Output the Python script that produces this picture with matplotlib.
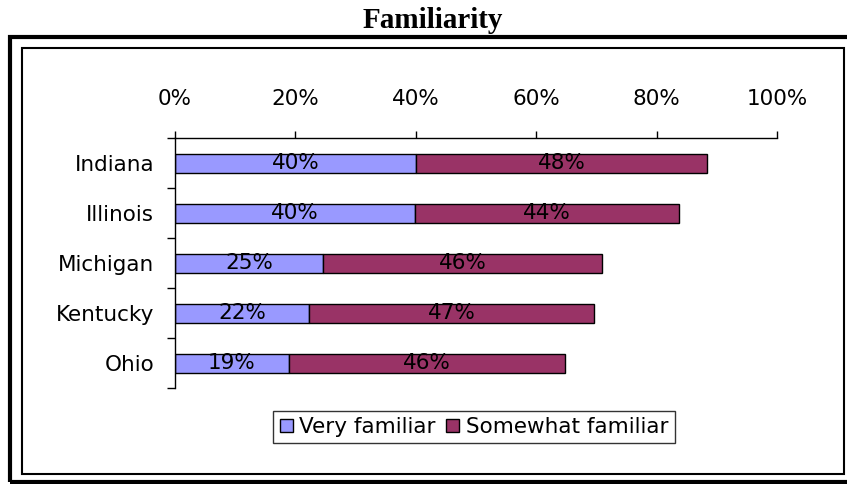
import numpy as np
import matplotlib
matplotlib.use("Agg")
import matplotlib.pyplot as plt
from matplotlib.patches import Rectangle

# data (percent)
states = ["Indiana", "Illinois", "Michigan", "Kentucky", "Ohio"]
very_familiar = [40.1, 39.9, 24.6, 22.3, 18.9]
somewhat_familiar = [48.2, 43.8, 46.4, 47.3, 45.9]
x_ticks = [0, 20, 40, 60, 80, 100]
legend_labels = ["Very familiar", "Somewhat familiar"]

c_very = "#9999FF"
c_some = "#993366"

plt.rcParams['font.family'] = ['DejaVu Sans']
fs = 15.5

W, H = 847, 484
fig = plt.figure(figsize=(W / 100, H / 100), dpi=100)
ax = fig.add_axes([175 / W, 1 - 388 / H, 602 / W, 250 / H])

y = np.arange(len(states))
b1 = ax.barh(y, very_familiar, height=0.38, color=c_very, edgecolor="black", linewidth=1.0, label=legend_labels[0])
b2 = ax.barh(y, somewhat_familiar, left=very_familiar, height=0.38, color=c_some, edgecolor="black", linewidth=1.0, label=legend_labels[1])

for i in range(len(states)):
    v, s = very_familiar[i], somewhat_familiar[i]
    ax.text(v / 2, y[i], f"{round(v)}%", ha="center", va="center", fontsize=fs)
    ax.text(v + s / 2, y[i], f"{round(s)}%", ha="center", va="center", fontsize=fs)

ax.set_xlim(0, 100)
ax.set_ylim(len(states) - 0.5, -0.5)
ax.xaxis.tick_top()
ax.set_xticks(x_ticks)
ax.set_xticklabels([f"{t}%" for t in x_ticks], fontsize=fs)
ax.tick_params(axis="x", direction="out", length=5, width=1, pad=16)

ax.set_yticks(y)
ax.set_yticklabels(states, fontsize=fs)
ax.set_yticks(np.arange(-0.5, len(states)), minor=True)
ax.tick_params(axis="y", which="major", length=0, pad=15)
ax.tick_params(axis="y", which="minor", direction="out", length=6, width=1)

for side in ["right", "bottom"]:
    ax.spines[side].set_visible(False)
ax.spines["top"].set_linewidth(1)
ax.spines["left"].set_linewidth(1)

leg = fig.legend(handles=[b1, b2], labels=legend_labels, loc="center",
                 bbox_to_anchor=(474 / W, 1 - 427 / H), ncol=2, fontsize=fs,
                 frameon=True, fancybox=False, handlelength=0.6, handleheight=0.6,
                 handletextpad=0.3, columnspacing=0.5, borderpad=0.3)
leg.get_frame().set_edgecolor("black")
leg.get_frame().set_linewidth(1)

# double border around the chart area (outer one runs off the right edge)
fig.patches.append(Rectangle((10 / W, 1 - 482 / H), 860 / W, 445 / H, transform=fig.transFigure,
                             fill=False, edgecolor="black", linewidth=3.0))
fig.patches.append(Rectangle((22 / W, 1 - 474 / H), 822 / W, 426 / H, transform=fig.transFigure,
                             fill=False, edgecolor="black", linewidth=1.5))

fig.text(433 / W, 1 - 28 / H, "Familiarity", ha="center", va="baseline", fontsize=21,
         fontweight="bold", family=["Liberation Serif", "DejaVu Serif"])

fig.savefig("out.png", dpi=100)
